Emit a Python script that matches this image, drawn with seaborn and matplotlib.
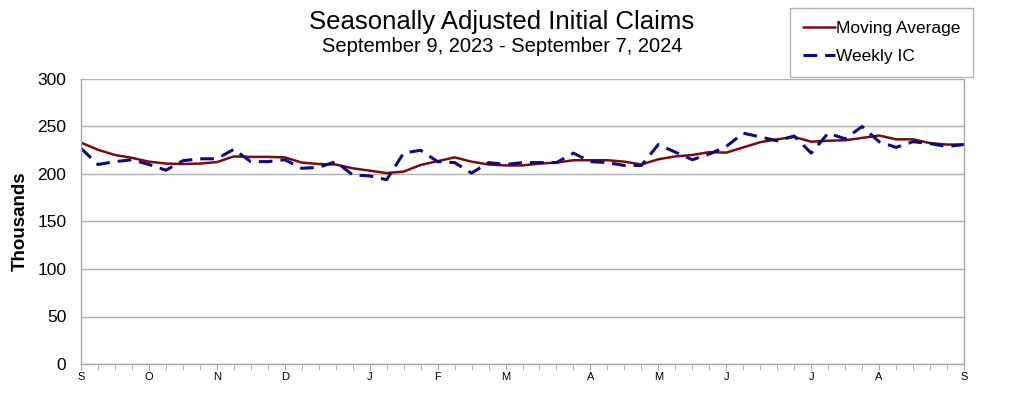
import numpy as np
import pandas as pd
import matplotlib
matplotlib.use("Agg")
import matplotlib.pyplot as plt
from matplotlib.lines import Line2D
import seaborn as sns

# weekly data, Sep 9 2023 - Sep 7 2024 (thousands)
weekly_ic = [227, 210, 213, 215, 210, 204, 214, 216, 216, 226,
             213, 213, 215, 206, 207, 213, 199, 198, 194, 222,
             225, 213, 212, 201, 212, 210, 212, 212, 212, 222,
             213, 212, 209, 209, 231, 223, 215, 221, 229, 243,
             239, 235, 240, 222, 243, 237, 250, 234, 228, 234,
             232, 229, 231]
moving_avg = [233, 225.5, 220, 217, 213, 211, 210.5, 211, 212.5, 218.5,
              218, 218, 217.5, 212, 210.5, 210, 206, 203.5, 201, 202.5,
              209.5, 213.5, 217.5, 213, 210, 209, 209, 211, 212, 214.5,
              214.5, 214.5, 213, 210, 215.5, 218.5, 220, 223, 222.5, 228,
              233.5, 236.5, 239, 234, 235, 235.5, 238, 240.5, 236.5, 236.5,
              232.5, 231, 231]
month_pos = [0, 4, 8, 12, 17, 21, 25, 30, 34, 38, 43, 47, 52]
month_lbl = ["S", "O", "N", "D", "J", "F", "M", "A", "M", "J", "J", "A", "S"]

weeks = np.arange(len(weekly_ic))
df = pd.concat([
    pd.DataFrame({"week": weeks, "value": moving_avg, "series": "Moving Average"}),
    pd.DataFrame({"week": weeks, "value": weekly_ic, "series": "Weekly IC"}),
])

sns.set_style("white")
plt.rcParams["font.family"] = ["Liberation Sans", "DejaVu Sans"]
plt.rcParams.update({"text.color": "black", "axes.labelcolor": "black",
                     "xtick.color": "black", "ytick.color": "black"})

red = "#7a0c0c"
blue = "#0a0a85"

fig = plt.figure(figsize=(10.18, 3.98), dpi=100)
ax = fig.add_axes([81/1018, 1-364/398, (964-81)/1018, (364-79)/398])

sns.lineplot(data=df, x="week", y="value", hue="series", style="series",
             palette={"Moving Average": red, "Weekly IC": blue},
             dashes={"Moving Average": "", "Weekly IC": (4.5, 2.6)},
             linewidth=2.2, legend=False, ax=ax)
ax.lines[0].set_linewidth(1.8)

ax.set_xlim(0, 52)
ax.set_ylim(0, 300)
ax.set_yticks(range(0, 301, 50))
ax.yaxis.grid(True, color="#b0b0b0", linewidth=1)
ax.set_axisbelow(True)
for s in ax.spines.values():
    s.set_color("#a8a8a8")
    s.set_linewidth(1)
ax.spines["top"].set_visible(False)

ax.set_xticks(weeks, minor=True)
ax.set_xticks(month_pos)
ax.set_xticklabels(month_lbl, fontsize=8)
ax.tick_params(axis="x", which="both", direction="out", length=4, color="#a8a8a8",
               labelcolor="black", bottom=True, pad=2)
ax.tick_params(axis="y", labelsize=12.5, left=False, pad=7)
ax.set_xlabel("")
ax.set_ylabel("Thousands", fontsize=13.5, fontweight="bold", labelpad=6)

fig.text(502/1018, 1-22/398, "Seasonally Adjusted Initial Claims", ha="center", va="center", fontsize=18.5)
fig.text(502/1018, 1-46/398, "September 9, 2023 - September 7, 2024", ha="center", va="center", fontsize=14.5)

handles = [Line2D([], [], color=red, lw=1.8),
           Line2D([], [], color=blue, lw=2.2, linestyle=(0, (4.5, 2.6)))]
leg = fig.legend(handles, ["Moving Average", "Weekly IC"], loc="upper right",
                 bbox_to_anchor=(973/1018, 1-8/398), fontsize=12.5, frameon=True,
                 fancybox=False, edgecolor="#a0a0a0", handlelength=1.8,
                 handletextpad=0.05, labelspacing=0.75, borderpad=0.75, borderaxespad=0)
leg.get_frame().set_linewidth(1)

fig.savefig("out.png", dpi=100)
